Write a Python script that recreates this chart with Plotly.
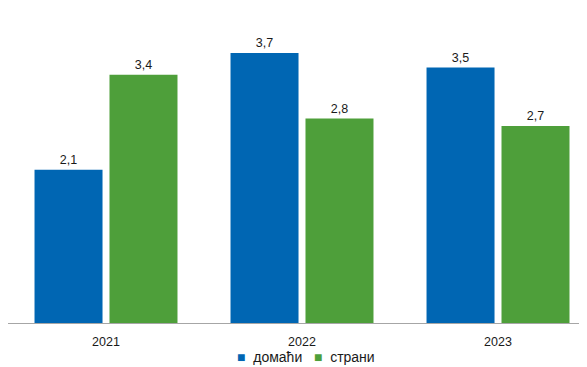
import plotly.graph_objects as go

years = ["2021", "2022", "2023"]
domaci = [2.1, 3.7, 3.5]
strani = [3.4, 2.8, 2.7]
series_names = ["домаћи", "страни"]

BLUE = "#0066b3"
GREEN = "#4e9f3a"

fig = go.Figure()
for name, vals, color in [(series_names[0], domaci, BLUE), (series_names[1], strani, GREEN)]:
    fig.add_trace(go.Bar(
        name=name, x=years, y=vals, marker_color=color, marker_line_width=0,
        texttemplate="%{y:.1f}", textposition="outside",
        textfont=dict(size=12.5, color="#1a1a1a"), cliponaxis=False,
    ))

# compact legend drawn as text (page has an 8px body offset)
sq = "<span style='color:{};font-size:14px'>■</span>"
legend_text = (
    sq.format(BLUE) + "&nbsp;&nbsp;" + series_names[0]
    + "&nbsp;&nbsp;&nbsp;" + sq.format(GREEN) + "&nbsp;&nbsp;" + series_names[1]
)
fig.add_annotation(
    text=legend_text, xref="paper", yref="paper", x=0.5155, y=-0.115,
    xanchor="center", yanchor="middle", showarrow=False,
    font=dict(size=14, color="#1a1a1a"),
)

fig.update_layout(
    width=579, height=359,
    paper_bgcolor="white", plot_bgcolor="white",
    font=dict(family="Liberation Sans, Arial", size=12, color="#1a1a1a"),
    separators=",.",
    barmode="group", bargap=0.235, bargroupgap=0.093,
    margin=dict(l=0, r=0, t=23, b=44),
    showlegend=False,
    xaxis=dict(
        type="category", range=[-0.5, 2.454], showline=True, linecolor="#a6a6a6",
        linewidth=1, ticks="", showgrid=False, tickfont=dict(size=12.5),
        ticklabelstandoff=7,
    ),
    yaxis=dict(range=[0, 4], visible=False, showgrid=False, zeroline=False),
)

fig.write_html("out.html")
